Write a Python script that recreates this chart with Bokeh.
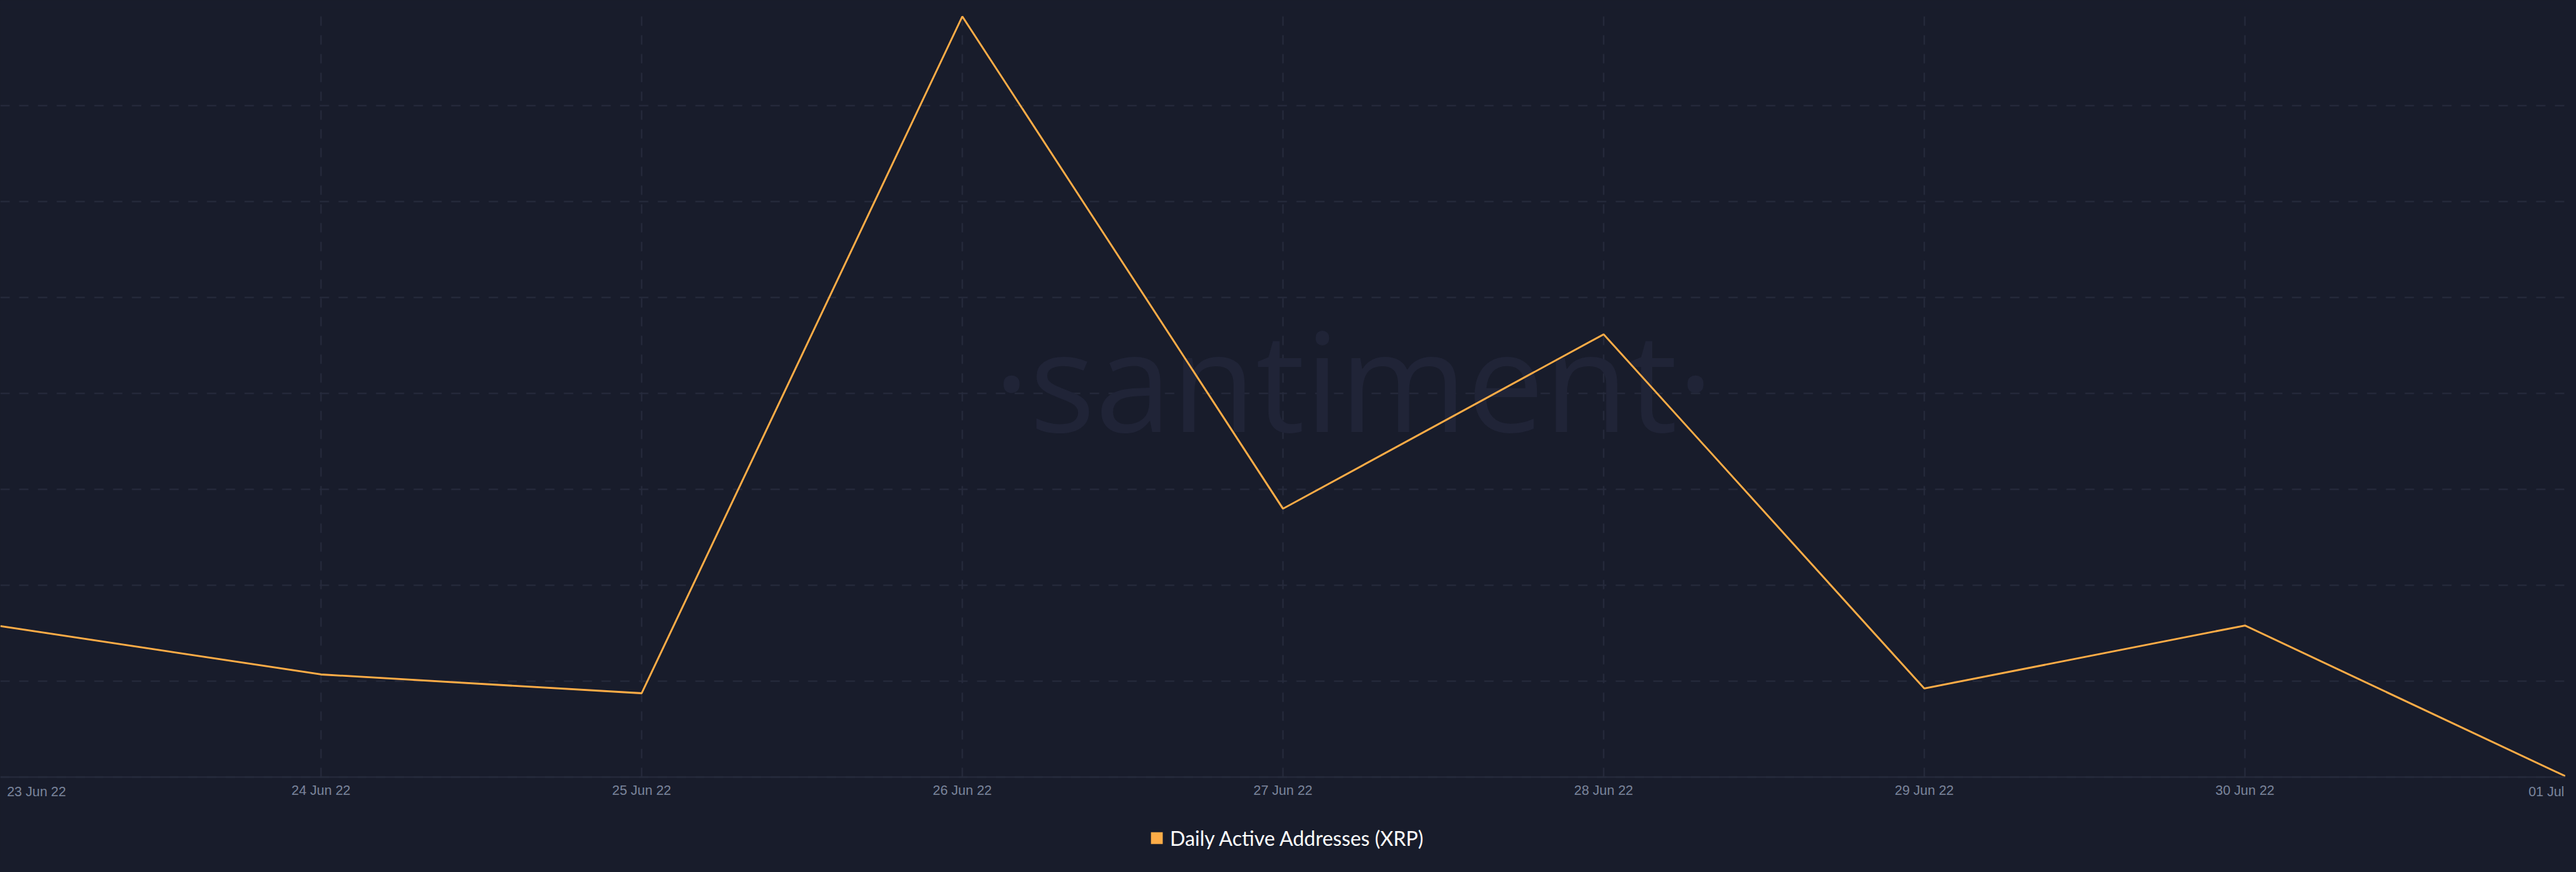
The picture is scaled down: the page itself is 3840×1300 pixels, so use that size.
from bokeh.plotting import figure
from bokeh.models import (Range1d, FixedTicker, Grid, Label, Legend, LegendItem,
                          ColumnDataSource)
from bokeh.embed import file_html
from bokeh.resources import INLINE

# ---- data ----
dates = ["2022-06-23", "2022-06-24", "2022-06-25", "2022-06-26", "2022-06-27",
         "2022-06-28", "2022-06-29", "2022-06-30", "2022-07-01"]
tick_labels = ["23 Jun 22", "24 Jun 22", "25 Jun 22", "26 Jun 22", "27 Jun 22",
               "28 Jun 22", "29 Jun 22", "30 Jun 22", "01 Jul"]
active_addresses = [27870, 25350, 24370, 59650, 33990, 43080, 24620, 27900, 20040]
y_grid_values = [20000, 25000, 30000, 35000, 40000, 45000, 50000, 55000, 60000]
series_name = "Daily Active Addresses (XRP)"
watermark = "\u00b7santiment\u00b7"

BG = "#181c2b"
GRID = "#262b3d"
LINE = "#ffad47"
TICK_TEXT = "#7b859c"

W, H = 3824, 1284
TOP = 14                   # frame top (canvas px)
AXIS_PX = 1158             # axis line position (canvas px)
y_lo, y_hi = y_grid_values[0], y_grid_values[-1]
per_px = (y_hi - y_lo) / (AXIS_PX - TOP)
y_start = y_lo - (H - AXIS_PX) * per_px   # frame extends to the canvas bottom

idx = list(range(len(dates)))
src = ColumnDataSource(data=dict(x=idx, y=active_addresses, date=dates))

p = figure(width=W, height=H, output_backend="svg", toolbar_location=None,
           x_range=Range1d(idx[0], idx[-1]), y_range=Range1d(y_start, y_hi),
           y_axis_location=None, min_border_left=0, min_border_right=0,
           min_border_top=TOP, min_border_bottom=0)
p.background_fill_color = BG
p.border_fill_color = BG
p.outline_line_color = None

# x axis, drawn at the bottom of the value range
ticker = FixedTicker(ticks=idx)
p.xaxis.fixed_location = y_lo
p.xaxis.ticker = ticker
p.xaxis.axis_line_color = GRID
p.xaxis.axis_line_width = 2
p.xaxis.major_tick_line_color = None
p.xaxis.minor_tick_line_color = None
p.xaxis.major_label_standoff = 2
p.xaxis.major_label_text_color = TICK_TEXT
p.xaxis.major_label_text_font = "Liberation Sans"
p.xaxis.major_label_text_font_size = "20px"
overrides = {i: lab for i, lab in zip(idx, tick_labels)}
overrides[idx[0]] = ""
overrides[idx[-1]] = ""
p.xaxis.major_label_overrides = overrides

# grids
p.xgrid.ticker = ticker
p.xgrid.cross_bounds = (y_lo, y_hi)
if len(p.ygrid) == 0:
    p.add_layout(Grid(dimension=1))
p.ygrid.ticker = FixedTicker(ticks=y_grid_values)
for g in list(p.xgrid) + list(p.ygrid):
    g.grid_line_color = GRID
    g.grid_line_width = 2
    g.grid_line_dash = "14 14"

# edge tick labels kept inside the plot width
lab_y = y_lo - 21 * per_px
p.add_layout(Label(x=idx[0], y=lab_y, x_offset=10,
                   text=tick_labels[0], text_align="left", text_baseline="middle",
                   text_color=TICK_TEXT, text_font="Liberation Sans", text_font_size="20px"))
p.add_layout(Label(x=idx[-1], y=lab_y, x_offset=-2,
                   text=tick_labels[-1], text_align="right", text_baseline="middle",
                   text_color=TICK_TEXT, text_font="Liberation Sans", text_font_size="20px"))

# watermark
p.add_layout(Label(x=4.22, y=y_lo + (AXIS_PX - 564) * per_px, text=watermark,
                   text_align="center", text_baseline="alphabetic", level="underlay",
                   text_color="#202437", text_font="Open Sans",
                   text_font_size="205px"))

# series
p.line("x", "y", source=src, line_color=LINE, line_width=2.8)

# legend swatch (zero-area quads: only the legend shows them)
sw = p.quad(left="x", right="x", top="y", bottom="y", source=src,
            fill_color=LINE, line_color=None)
legend = Legend(items=[LegendItem(label=series_name, renderers=[sw])],
                location=(1713, 17), orientation="horizontal",
                padding=0, margin=0, spacing=0, border_line_color=None,
                background_fill_alpha=0, glyph_width=22, glyph_height=22,
                label_standoff=9, label_height=28,
                label_text_font="Lato", label_text_font_size="30px",
                label_text_color="#ffffff")
p.add_layout(legend)

template = """{% block preamble %}<style>html, body { background: #181c2b; }</style>{% endblock %}"""

open("out.html", "w").write(file_html(p, INLINE, template=template))
